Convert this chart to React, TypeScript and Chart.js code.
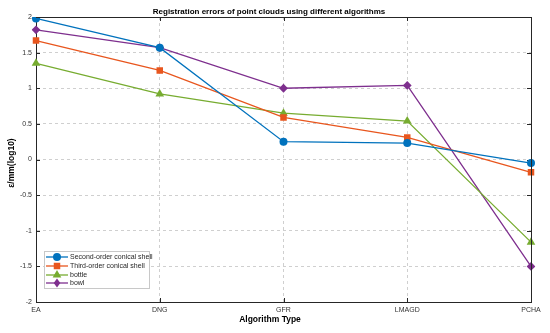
import React, { useEffect, useRef } from "react";
import { Chart, registerables } from "chart.js";

Chart.register(...registerables);

const categories = ["EA", "DNG", "GFR", "LMAGD", "PCHA"];
const seriesNames = ["Second-order conical shell", "Third-order conical shell", "bottle", "bowl"];
const secondOrder = [1.98, 1.57, 0.25, 0.23, -0.05];
const thirdOrder = [1.67, 1.25, 0.59, 0.31, -0.18];
const bottle = [1.35, 0.92, 0.65, 0.54, -1.16];
const bowl = [1.82, 1.57, 1.0, 1.04, -1.5];
const yMin = -2;
const yMax = 2;
const yStep = 0.5;

const colors = ["#0072BD", "#E8561E", "#77AC30", "#7E2F8E"];
const styles = ["circle", "rect", "triangle", "rectRot"];
const radii = [4, 4.6, 5, 4.4];
const FONT = "'Liberation Sans', Arial, sans-serif";

function drawMarker(ctx: CanvasRenderingContext2D, style: string, x: number, y: number, r: number, color: string) {
  ctx.save();
  ctx.fillStyle = color;
  ctx.beginPath();
  if (style === "circle") {
    ctx.arc(x, y, r, 0, Math.PI * 2);
  } else if (style === "rect") {
    const s = r * Math.SQRT1_2;
    ctx.rect(x - s, y - s, 2 * s, 2 * s);
  } else if (style === "triangle") {
    ctx.moveTo(x, y - r);
    ctx.lineTo(x + r * 0.866, y + r * 0.5);
    ctx.lineTo(x - r * 0.866, y + r * 0.5);
    ctx.closePath();
  } else {
    ctx.moveTo(x, y - r);
    ctx.lineTo(x + r * 0.75, y);
    ctx.lineTo(x, y + r);
    ctx.lineTo(x - r * 0.75, y);
    ctx.closePath();
  }
  ctx.fill();
  ctx.restore();
}

const tickPlugin = {
  id: "inTicks",
  beforeDatasetsDraw(chart: any) {
    const ctx: CanvasRenderingContext2D = chart.ctx;
    const a = chart.chartArea;
    const xs = chart.scales.x;
    const ys = chart.scales.y;
    ctx.save();
    ctx.strokeStyle = "#262626";
    ctx.lineWidth = 1;
    ctx.beginPath();
    for (let v = yMin; v <= yMax + 1e-9; v += yStep) {
      const py = Math.round(ys.getPixelForValue(v)) + 0.5;
      ctx.moveTo(a.left, py);
      ctx.lineTo(a.left + 4, py);
      ctx.moveTo(a.right, py);
      ctx.lineTo(a.right - 4, py);
    }
    for (let i = 0; i < categories.length; i++) {
      const px = Math.round(xs.getPixelForValue(i)) + 0.5;
      ctx.moveTo(px, a.bottom);
      ctx.lineTo(px, a.bottom - 4);
      ctx.moveTo(px, a.top);
      ctx.lineTo(px, a.top + 4);
    }
    ctx.stroke();
    ctx.restore();
  },
};

const decorPlugin = {
  id: "decor",
  afterDraw(chart: any) {
    const ctx: CanvasRenderingContext2D = chart.ctx;
    const a = chart.chartArea;
    ctx.save();
    // box
    ctx.strokeStyle = "#262626";
    ctx.lineWidth = 1;
    ctx.beginPath();
    ctx.moveTo(a.left, a.top + 0.5);
    ctx.lineTo(a.right + 0.5, a.top + 0.5);
    ctx.lineTo(a.right + 0.5, a.bottom);
    ctx.stroke();
    // title
    ctx.fillStyle = "#000";
    ctx.font = `bold 8px ${FONT}`;
    ctx.textAlign = "center";
    ctx.textBaseline = "middle";
    ctx.fillText("Registration errors of point clouds using different algorithms", 269, 12);
    // x title
    ctx.font = `bold 8.5px ${FONT}`;
    ctx.fillText("Algorithm Type", 270, 320);
    // y title
    ctx.save();
    ctx.translate(12, 163);
    ctx.rotate(-Math.PI / 2);
    ctx.fillText("\u03b5/mm(log10)", 0, 0);
    ctx.restore();
    // legend
    const lx = 44, ly = 251, lw = 105, lh = 37;
    ctx.fillStyle = "#fff";
    ctx.fillRect(lx, ly, lw, lh);
    ctx.strokeStyle = "#c8c8c8";
    ctx.lineWidth = 1;
    ctx.strokeRect(lx + 0.5, ly + 0.5, lw, lh);
    const rows = [257, 266, 275, 283];
    ctx.font = `7px ${FONT}`;
    ctx.textAlign = "left";
    ctx.textBaseline = "middle";
    for (let i = 0; i < seriesNames.length; i++) {
      const y = rows[i];
      ctx.strokeStyle = colors[i];
      ctx.lineWidth = 1.3;
      ctx.beginPath();
      ctx.moveTo(46, y);
      ctx.lineTo(68, y);
      ctx.stroke();
      drawMarker(ctx, styles[i], 57, y, radii[i], colors[i]);
      ctx.fillStyle = "#262626";
      ctx.fillText(seriesNames[i], 70, y + 0.5);
    }
    ctx.restore();
  },
};

export default function App() {
  const ref = useRef<HTMLCanvasElement>(null);
  useEffect(() => {
    document.body.style.margin = "0";
    const seriesData = [secondOrder, thirdOrder, bottle, bowl];
    const chart = new Chart(ref.current!, {
      type: "line",
      data: {
        labels: categories,
        datasets: seriesData.map((d, i) => ({
          label: seriesNames[i],
          data: d,
          borderColor: colors[i],
          backgroundColor: colors[i],
          pointBackgroundColor: colors[i],
          pointBorderColor: colors[i],
          pointBorderWidth: 0,
          pointStyle: styles[i] as any,
          pointRadius: radii[i],
          borderWidth: 1.3,
          tension: 0,
          fill: false,
        })),
      },
      options: {
        responsive: false,
        animation: false,
        devicePixelRatio: 1,
        layout: { padding: { top: 17, right: 19, left: 0, bottom: 0 } },
        plugins: {
          legend: { display: false },
          title: { display: false },
          tooltip: { enabled: false },
        },
        scales: {
          x: {
            type: "category",
            offset: false,
            grid: { color: "#cfcfcf", drawTicks: false, lineWidth: 1 },
            border: { color: "#262626", width: 1, dash: [3, 3] },
            ticks: { color: "#333", font: { size: 7, family: FONT }, padding: 4, maxRotation: 0 },
            afterFit: (s: any) => { s.height = 31; },
          },
          y: {
            min: yMin,
            max: yMax,
            grid: { color: "#cfcfcf", drawTicks: false, lineWidth: 1 },
            border: { color: "#262626", width: 1, dash: [3, 3] },
            ticks: {
              stepSize: yStep,
              color: "#333",
              font: { size: 7, family: FONT },
              padding: 4,
              callback: (v: any) => String(Number(v)),
            },
            afterFit: (s: any) => { s.width = 36; },
          },
        },
      },
      plugins: [tickPlugin, decorPlugin],
    });
    return () => chart.destroy();
  }, []);
  return (
    <div style={{ width: 550, height: 333 }}>
      <canvas ref={ref} width={550} height={333} style={{ width: 550, height: 333, display: "block" }} />
    </div>
  );
}
